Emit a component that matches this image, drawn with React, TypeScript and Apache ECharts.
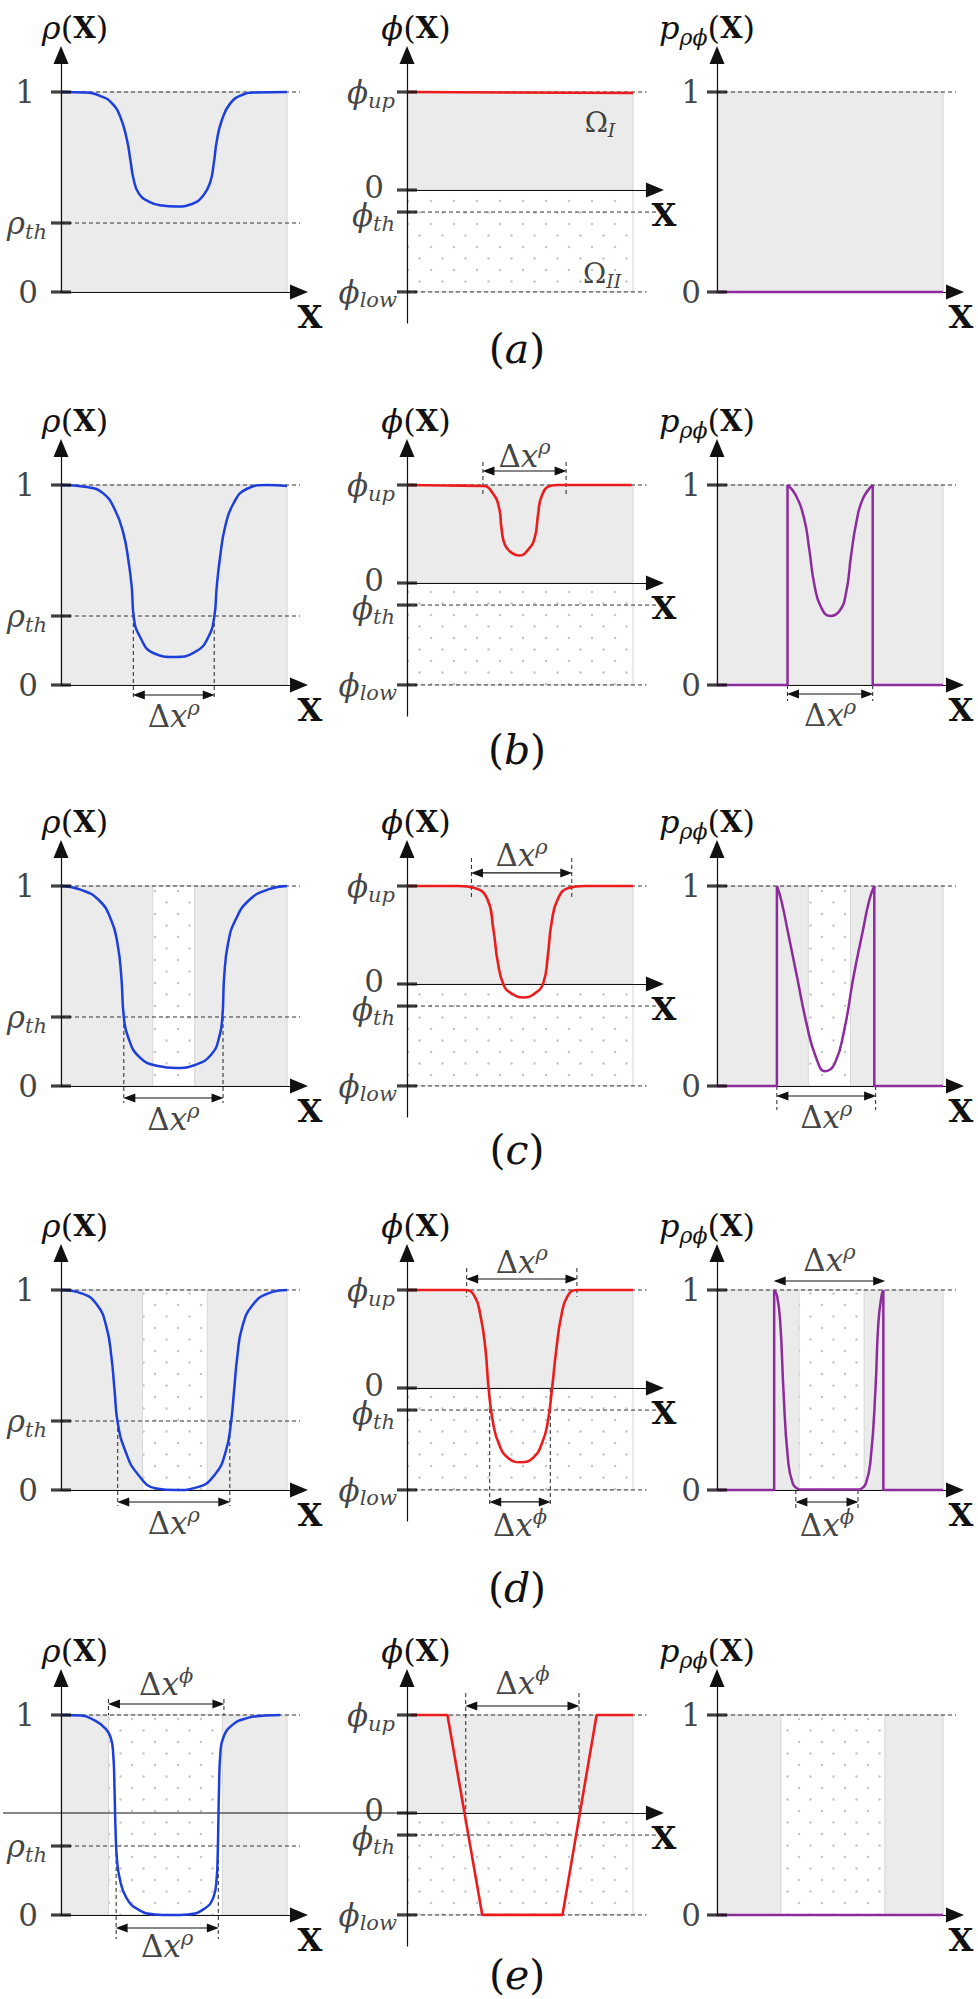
import React, { useEffect, useRef } from 'react';
import * as echarts from 'echarts';

const W = 978;
const H = 1999;
const SERIF = "'DejaVu Serif', 'Liberation Serif', serif";
const INK = '#111111';
const BLUE = '#1c3fdc';
const RED = '#ec1c1c';
const PURPLE = '#8c2b9c';
const GRAY = '#ebebeb';

// ---------- threshold levels ----------
const RHO_TH = 0.345;
const PHI_UP = 1;
const PHI_TH = -0.225;
const PHI_LOW = -1.04;

// ---------- rho(X) curves, rows a..e ----------
const RHO_A = [[0, 1], [10.8, 0.997], [18.1, 0.977], [22.6, 0.943], [26.2, 0.877], [29.2, 0.76], [30.7, 0.66], [32.2, 0.56], [34.4, 0.493], [38.8, 0.452], [44.7, 0.432], [50.6, 0.427], [58, 0.44], [63.1, 0.485], [66.1, 0.552], [67.6, 0.643], [69, 0.76], [71.2, 0.86], [74.9, 0.943], [80.1, 0.985], [86, 0.998], [100, 1]];
const RHO_B = [[0, 1], [11.4, 0.99], [18.7, 0.958], [23.9, 0.875], [27.6, 0.758], [29.8, 0.625], [31.3, 0.49], [32.2, 0.34], [35, 0.24], [40.8, 0.16], [50.4, 0.14], [60, 0.17], [65.2, 0.24], [67.8, 0.34], [68.9, 0.49], [70.4, 0.64], [72.6, 0.79], [76.2, 0.905], [82.1, 0.98], [91, 1], [100, 0.995]];
const RHO_C = [[0, 1], [8.3, 0.983], [16.7, 0.93], [22.2, 0.83], [25, 0.712], [26.7, 0.545], [27.8, 0.344], [29.7, 0.244], [34.7, 0.144], [43, 0.1], [50.8, 0.09], [59.7, 0.107], [66.7, 0.16], [70, 0.244], [71.4, 0.344], [72.2, 0.545], [73.9, 0.712], [77.2, 0.83], [83.3, 0.93], [91.7, 0.983], [100, 1]];
const RHO_D = [[0, 1], [9.1, 0.983], [16, 0.925], [20.1, 0.816], [22.3, 0.666], [23.7, 0.498], [25.1, 0.336], [28.4, 0.197], [33.9, 0.08], [42.1, 0.008], [51, 0], [60.1, 0.013], [68.3, 0.08], [73, 0.197], [75.2, 0.336], [76.6, 0.498], [78, 0.666], [80.2, 0.816], [84.8, 0.925], [91.7, 0.983], [100, 1]];
const RHO_E = [[0, 1], [8.9, 0.997], [14.8, 0.973], [19.3, 0.936], [21.9, 0.89], [23.1, 0.806], [23.7, 0.622], [24.1, 0.438], [24.7, 0.288], [25.9, 0.187], [28.9, 0.087], [34.1, 0.028], [41.5, 0.003], [48.9, 0], [56.3, 0.003], [63, 0.028], [67.4, 0.087], [68.9, 0.187], [69.3, 0.288], [69.6, 0.438], [69.9, 0.622], [70.5, 0.806], [71.9, 0.89], [75.6, 0.948], [81.5, 0.982], [90.4, 0.997], [97, 1]];

// ---------- phi(X) curves ----------
const PHI_A = [[0, 1], [100, 0.99]];
const PHI_B = [[0, 1], [17.5, 0.995], [33.7, 0.99], [38.1, 0.91], [40.8, 0.76], [41.8, 0.56], [43.3, 0.39], [46.2, 0.31], [49.6, 0.28], [53.6, 0.34], [56.5, 0.46], [58, 0.7], [59.5, 0.88], [63.2, 0.99], [66.9, 1], [99.4, 1]];
const PHI_C = [[0, 1], [23, 1], [29.9, 0.98], [35.5, 0.87], [38.2, 0.56], [40.2, 0.22], [42.9, -0.017], [46.5, -0.1], [51.5, -0.137], [56.8, -0.092], [60.4, 0.017], [62.3, 0.29], [64, 0.63], [66.8, 0.87], [71.5, 0.98], [78.4, 1], [100, 1]];
const PHI_D = [[0, 1], [25.6, 1], [29.8, 0.94], [32.5, 0.74], [34.7, 0.4], [36.1, 0], [38, -0.345], [40.8, -0.58], [44.9, -0.716], [50.4, -0.757], [55.9, -0.71], [60, -0.547], [62.3, -0.345], [64.2, 0], [66.1, 0.4], [68.3, 0.74], [71.1, 0.94], [75.2, 1], [100, 1]];
const PHI_E = [[1.8, 1], [17.9, 1], [33.3, -1.04], [68.8, -1.04], [83.9, 1], [100, 1]];

// ---------- p(X) curves (pieces: straight jumps + smooth humps) ----------
const P_A = [[0, 0], [100, 0]];
const P_B_LEFT = [[0, 0], [31.2, 0], [31.2, 1]];
const P_B_HUMP = [[31.2, 1], [34.8, 0.95], [38.6, 0.83], [40.8, 0.68], [43.1, 0.5], [46, 0.39], [50, 0.345], [54.2, 0.37], [57.1, 0.46], [59.3, 0.645], [61.6, 0.81], [64.5, 0.93], [68.9, 1]];
const P_B_RIGHT = [[68.9, 1], [68.9, 0], [100, 0]];
const P_C_LEFT = [[0, 0], [26.5, 0], [26.5, 1]];
const P_C_HUMP = [[26.5, 1], [28.4, 0.93], [31.2, 0.78], [35.4, 0.546], [39.6, 0.313], [43.7, 0.146], [47.9, 0.074], [52.1, 0.112], [56.3, 0.28], [60.4, 0.546], [64.6, 0.78], [67.4, 0.93], [69.6, 1]];
const P_C_RIGHT = [[69.6, 1], [69.6, 0], [100, 0]];
const P_D_LEFT = [[0, 0], [25.3, 0], [25.3, 1]];
const P_D_HUMP1 = [[25.3, 1], [26.6, 0.97], [28, 0.836], [29.4, 0.5], [31.3, 0.167], [33.5, 0.033], [36.3, 0.003]];
const P_D_FLAT = [[36.3, 0.003], [63.2, 0.003]];
const P_D_HUMP2 = [[63.2, 0.003], [65.9, 0.033], [68.1, 0.167], [70.1, 0.5], [71.4, 0.836], [72.8, 0.97], [73.6, 1]];
const P_D_RIGHT = [[73.6, 1], [73.6, 0], [100, 0]];
const P_E = [[0, 0], [100, 0]];

const RHO_CURVES = [RHO_A, RHO_B, RHO_C, RHO_D, RHO_E];
const PHI_CURVES = [PHI_A, PHI_B, PHI_C, PHI_D, PHI_E];
const PHI_SMOOTH = [false, true, true, true, false];
// [data, smooth]
const P_PIECES: any[][] = [
  [[P_A, false]],
  [[P_B_LEFT, false], [P_B_HUMP, true], [P_B_RIGHT, false]],
  [[P_C_LEFT, false], [P_C_HUMP, true], [P_C_RIGHT, false]],
  [[P_D_LEFT, false], [P_D_HUMP1, true], [P_D_FLAT, false], [P_D_HUMP2, true], [P_D_RIGHT, false]],
  [[P_E, false]],
];

// dotted (white) strips [xFrom, xTo] in rho and p panels
const RHO_STRIPS = [null, null, [40.6, 59.2], [36.1, 64.7], [21, 71.4]];
const P_STRIPS = [null, null, [40.4, 59.1], [36.3, 65.1], [28.3, 74.3]];

// tick values & labels
const RHO_TICKS = [1, RHO_TH, 0];
const RHO_LABELS = ['{rm|1}', '{it|ρ}{sub|th}', '{rm|0}'];
const RHO_GAPS = [16, 4, 13];
const PHI_TICKS = [PHI_UP, 0, PHI_TH, PHI_LOW];
const PHI_LABELS = ['{it|ϕ}{sub|up}', '{rm|0}', '{it|ϕ}{sub|th}', '{it|ϕ}{sub|low}'];
const PHI_GAPS = [2, 13, 2, 0];
const PHI_LABEL_DY = [0, -3, 3, 0];
const P_TICKS = [1, 0];
const P_LABELS = ['{rm|1}', '{rm|0}'];
const P_GAPS = [6, 6];

// dashed reference lines [value, xEnd]
const RHO_DASH = [[1, 105.8], [RHO_TH, 106.6]];
const PHI_DASH = [[PHI_UP, 106], [PHI_TH, 112], [PHI_LOW, 106]];
const P_DASH = [[1, 105.8]];

// width annotations: [row, panel, x1, x2, yArrow, yLabel, sup, guideFrom, guideTo]
const DIMENSIONS: any[] = [
  [1, 0, 32, 67.8, -0.05, -0.155, 'ρ', RHO_TH, -0.075],
  [1, 1, 33.6, 70.4, 1.143, 1.3, 'ρ', 1.235, 0.88],
  [1, 2, 31.2, 68.9, -0.045, -0.15, 'ρ', 0, -0.08],
  [2, 0, 27.8, 71.7, -0.06, -0.165, 'ρ', RHO_TH, -0.085],
  [2, 1, 28.5, 72.9, 1.133, 1.316, 'ρ', 1.286, 0.888],
  [2, 2, 26.5, 70.2, -0.05, -0.155, 'ρ', 0, -0.12],
  [3, 0, 25.1, 74.7, -0.06, -0.165, 'ρ', RHO_TH, -0.08],
  [3, 1, 26.4, 75.2, 1.112, 1.286, 'ρ', 1.224, 0.93],
  [3, 1, 36.6, 63.4, -1.163, -1.4, 'ϕ', 0, -1.214],
  [3, 2, 25.3, 74.2, 1.045, 1.15, 'ρ', null, null],
  [3, 2, 34.9, 62.4, -0.06, -0.175, 'ϕ', 0, -0.1],
  [4, 0, 21, 72.1, 1.055, 1.155, 'ϕ', 1.08, 1.0],
  [4, 0, 24.4, 69.6, -0.065, -0.155, 'ρ', RHO_TH, -0.12],
  [4, 1, 26, 76.1, 1.092, 1.327, 'ϕ', 1.224, 0],
];

// region labels in row (a), phi panel: [x, y, text]
const OMEGA_LABELS: any[] = [
  [85.4, 0.69, '{rm|Ω}{sub|I}'],
  [86.3, -0.857, '{rm|Ω}{sub|II}'],
];

// ---------- layout ----------
const ROW_TOP = [92, 485, 886, 1290, 1715]; // page y of value 1
const TAG_Y = [349, 750, 1150, 1588, 1975];
const TAGS = ['a', 'b', 'c', 'd', 'e'];
const AXIS_X = [61, 407, 717];
const X_MAX = [105.3, 109.7, 105.3];
const Y_MIN = [0, -1.357, 0];
const Y_MAX = [1.185, 1.378, 1.185];
const PX_PER_Y = [200, 98, 200];
const PX_PER_X = 2.26;
const TITLE_DX = [14, 9, -10];
const XLBL_DX = [249, 257, 244];
const TITLES = ['{it|ρ}{rm|(}{bf|X}{rm|)}', '{it|ϕ}{rm|(}{bf|X}{rm|)}', '{it|p}{sub|ρϕ}{rm|(}{bf|X}{rm|)}'];
const E_EXT_FROM = 3; // row (e) phi x-axis continues to this page x

function tok(s: number, style: string, weight: string) {
  return {
    fontFamily: SERIF, fontStyle: style, fontWeight: weight, fontSize: s,
    font: `${style} ${weight} ${s}px ${SERIF}`,
    color: INK, fill: INK, verticalAlign: 'middle',
  };
}

function rich(s: number) {
  const ss = Math.round(s * 0.68);
  return {
    it: { ...tok(s, 'italic', 'normal'), lineHeight: Math.round(s * 0.95) },
    rm: { ...tok(s, 'normal', 'normal'), lineHeight: Math.round(s * 0.95) },
    bf: { ...tok(Math.round(s * 0.9), 'normal', 'bold'), lineHeight: Math.round(s * 0.95) },
    sub: { ...tok(ss, 'italic', 'normal'), lineHeight: ss, padding: [Math.round(s * 0.55), 0, 0, 0] },
    sup: { ...tok(ss, 'italic', 'normal'), lineHeight: ss, padding: [0, 0, Math.round(s * 0.55), 0] },
  };
}

function makeDots() {
  const c = document.createElement('canvas');
  c.width = 23;
  c.height = 23;
  const g = c.getContext('2d') as CanvasRenderingContext2D;
  g.fillStyle = '#ffffff';
  g.fillRect(0, 0, 23, 23);
  g.fillStyle = '#c6c6c6';
  g.beginPath();
  g.arc(5.5, 5.5, 1.25, 0, Math.PI * 2);
  g.fill();
  g.beginPath();
  g.arc(17, 17, 1.25, 0, Math.PI * 2);
  g.fill();
  return c;
}

function gText(x: number, y: number, text: string, s: number) {
  return {
    type: 'text', x, y, z: 50, silent: true,
    style: { legacy: false, text, rich: rich(s), font: `normal ${s}px ${SERIF}`, fontSize: s, fontFamily: SERIF, fill: INK, align: 'center', verticalAlign: 'middle' },
  };
}

function buildOption(dots: HTMLCanvasElement) {
  const grid: any[] = [];
  const xAxis: any[] = [];
  const yAxis: any[] = [];
  const series: any[] = [];
  const graphic: any[] = [];
  const dotFill = { image: dots, repeat: 'repeat' };
  const axisLine = {
    show: true,
    onZero: true,
    symbol: ['none', 'triangle'],
    symbolSize: [15, 18],
    lineStyle: { color: INK, width: 1.2 },
  };

  for (let r = 0; r < 5; r++) {
    for (let k = 0; k < 3; k++) {
      const gi = r * 3 + k;
      grid.push({
        left: AXIS_X[k],
        top: ROW_TOP[r] - (Y_MAX[k] - 1) * PX_PER_Y[k],
        width: X_MAX[k] * PX_PER_X,
        height: (Y_MAX[k] - Y_MIN[k]) * PX_PER_Y[k],
        containLabel: false,
        outerBoundsMode: 'none',
      });
      xAxis.push({
        type: 'value', gridIndex: gi, min: 0, max: X_MAX[k], z: 10,
        axisLine, axisTick: { show: false }, axisLabel: { show: false }, splitLine: { show: false },
      });
      yAxis.push({
        type: 'value', gridIndex: gi, min: Y_MIN[k], max: Y_MAX[k], z: 10,
        axisLine, axisTick: { show: false }, axisLabel: { show: false }, splitLine: { show: false },
      });
      const base = { xAxisIndex: gi, yAxisIndex: gi, silent: true, animation: false };

      // grey region
      series.push({
        ...base, type: 'line', data: [], z: 1,
        markArea: {
          silent: true, label: { show: false },
          itemStyle: { color: GRAY, borderColor: '#d2d2d2', borderWidth: 1 },
          data: [[{ coord: [0, 0] }, { coord: [100, 1] }]],
        },
      });
      // dotted region
      const dotted: any[] = [];
      if (k === 1) dotted.push([{ coord: [0, PHI_LOW] }, { coord: [100, 0] }]);
      const strip = k === 0 ? RHO_STRIPS[r] : k === 2 ? P_STRIPS[r] : null;
      if (strip) dotted.push([{ coord: [strip[0], 0] }, { coord: [strip[1], 1] }]);
      if (dotted.length) {
        series.push({
          ...base, type: 'line', data: [], z: 2,
          markArea: {
            silent: true, label: { show: false },
            itemStyle: { color: dotFill, borderColor: '#d6d6d6', borderWidth: 1 },
            data: dotted,
          },
        });
      }
      // dashed reference lines
      const dashes = k === 0 ? RHO_DASH : k === 1 ? PHI_DASH : P_DASH;
      dashes.forEach(([v, xe]) => {
        series.push({
          ...base, type: 'line', z: 3, clip: false, symbol: 'none',
          data: [[0, v], [xe, v]],
          lineStyle: { color: '#333333', width: 1, type: [4, 3] },
        });
      });
      // curves
      if (k === 0) {
        series.push({
          ...base, type: 'line', z: 20, clip: false, symbol: 'none', smooth: 0.5,
          data: RHO_CURVES[r], lineStyle: { color: BLUE, width: 2.5 },
        });
      } else if (k === 1) {
        series.push({
          ...base, type: 'line', z: 20, clip: false, symbol: 'none',
          smooth: PHI_SMOOTH[r] ? 0.5 : false,
          data: PHI_CURVES[r], lineStyle: { color: RED, width: 2.6 },
        });
      } else {
        P_PIECES[r].forEach(([d, sm]) => {
          series.push({
            ...base, type: 'line', z: 20, clip: false, symbol: 'none',
            smooth: sm ? 0.5 : false,
            data: d, lineStyle: { color: PURPLE, width: 2.5 },
          });
        });
      }
      // ticks with labels
      const ticks = k === 0 ? RHO_TICKS : k === 1 ? PHI_TICKS : P_TICKS;
      const labels = k === 0 ? RHO_LABELS : k === 1 ? PHI_LABELS : P_LABELS;
      const gaps = k === 0 ? RHO_GAPS : k === 1 ? PHI_GAPS : P_GAPS;
      series.push({
        ...base, type: 'scatter', z: 25, clip: false,
        symbol: 'rect', symbolSize: [20, 3.2], itemStyle: { color: INK },
        label: { show: true, position: 'left', rich: rich(31) },
        data: ticks.map((v, i) => ({
          value: [0, v],
          label: { formatter: labels[i], distance: gaps[i], offset: [0, k === 1 ? PHI_LABEL_DY[i] : 0] },
        })),
      });
      if (r === 0 && k === 1) {
        series.push({
          ...base, type: 'scatter', z: 25, clip: false, symbol: 'circle', symbolSize: 0.1,
          itemStyle: { color: 'transparent' },
          label: { show: true, position: 'inside', rich: rich(28) },
          data: OMEGA_LABELS.map(([x, y, t]) => ({ value: [x, y], label: { formatter: t } })),
        });
      }

      // text: title, X label
      graphic.push(gText(AXIS_X[k] + TITLE_DX[k], ROW_TOP[r] - 64, TITLES[k], 32));
      const zeroY = ROW_TOP[r] + (k === 1 ? 98 : 200);
      graphic.push({
        type: 'text', x: AXIS_X[k] + XLBL_DX[k], y: zeroY + 25, z: 50, silent: true,
        style: { legacy: false, text: 'X', font: `bold 32px ${SERIF}`, fontFamily: SERIF, fontWeight: 'bold', fontSize: 32, fill: INK, align: 'center', verticalAlign: 'middle' },
      });
      if (r === 4 && k === 1) {
        graphic.push({
          type: 'line', z: 9, silent: true,
          shape: { x1: E_EXT_FROM, y1: zeroY, x2: AXIS_X[1], y2: zeroY },
          style: { stroke: INK, lineWidth: 1.2 },
        });
      }
    }
    graphic.push(gText(517, TAG_Y[r], `{rm|(}{it|${TAGS[r]}}{rm|)}`, 41));
  }

  // width annotations
  const inset = 5.5 / PX_PER_X;
  DIMENSIONS.forEach(([r, k, x1, x2, ya, yl, sup, g1, g2]) => {
    const gi = r * 3 + k;
    const base = { xAxisIndex: gi, yAxisIndex: gi, silent: true, animation: false };
    if (g1 !== null) {
      [x1, x2].forEach((x) => {
        series.push({
          ...base, type: 'line', z: 15, clip: false, symbol: 'none',
          data: [[x, g1], [x, g2]], lineStyle: { color: '#222', width: 1, type: [4, 3] },
        });
      });
    }
    series.push({
      ...base, type: 'line', z: 16, clip: false,
      symbolSize: [9, 12], itemStyle: { color: INK }, lineStyle: { color: INK, width: 1.2 },
      data: [
        { value: [x1 + inset, ya], symbol: 'triangle', symbolRotate: 90 },
        { value: [x2 - inset, ya], symbol: 'triangle', symbolRotate: -90 },
      ],
    });
    series.push({
      ...base, type: 'scatter', z: 25, clip: false, symbol: 'circle', symbolSize: 0.1,
      itemStyle: { color: 'transparent' },
      label: { show: true, position: 'inside', rich: rich(31), formatter: `{rm|Δ}{it|x}{sup|${sup}}` },
      data: [[(x1 + x2) / 2, yl]],
    });
  });

  return {
    animation: false,
    backgroundColor: '#ffffff',
    textStyle: { fontFamily: SERIF },
    grid, xAxis, yAxis, series, graphic,
  };
}

export default function App() {
  const ref = useRef<HTMLDivElement>(null);
  useEffect(() => {
    if (!ref.current) return;
    const chart = echarts.init(ref.current, undefined, { renderer: 'svg', width: W, height: H });
    chart.setOption(buildOption(makeDots()) as any);
    return () => chart.dispose();
  }, []);
  return <div ref={ref} style={{ position: 'absolute', left: 0, top: 0, width: W, height: H, background: '#fff' }} />;
}
